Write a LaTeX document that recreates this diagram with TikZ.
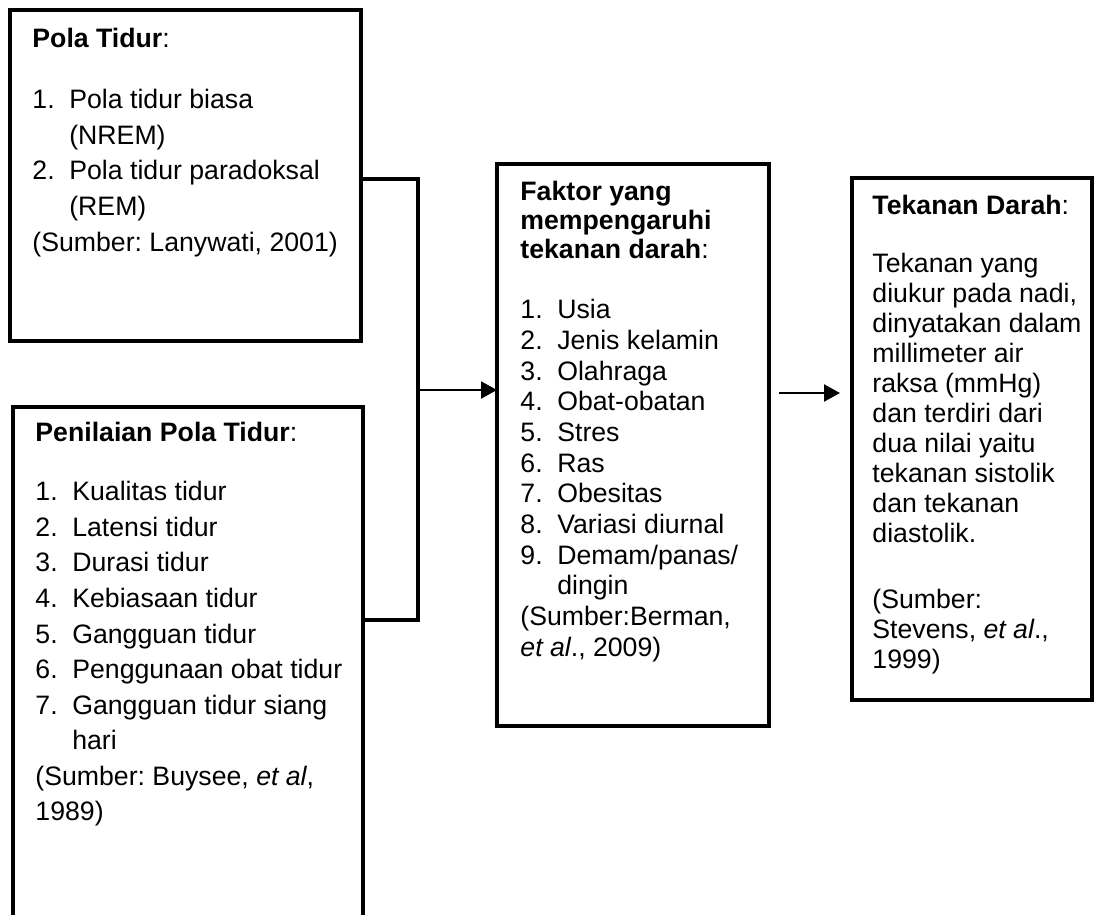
\documentclass[tikz,border=0pt]{standalone}
\usepackage{fontspec}
\setmainfont{Liberation Sans}
\usetikzlibrary{arrows.meta,calc}

% numbered line with hanging indent (\brk keeps the paragraph open)
\newcommand{\brk}{\hfil\break}
\newcommand{\itm}[2]{\par\hangindent=16.6pt\hangafter=1\noindent\makebox[16.6pt][l]{#1}#2\par}
% text block of a box: width, line spacing, content
\newcommand{\isibox}[3]{\parbox[t]{#1}{\raggedright\frenchspacing\fontsize{12pt}{#2}\selectfont #3}}

\begin{document}
\begin{tikzpicture}[x=0.45pt,y=-0.45pt,
    kotak/.style={draw,line width=1.5pt,anchor=north west,inner sep=0pt,outer sep=0pt},
    isi/.style={anchor=north west,inner sep=0pt},
    garis/.style={line width=1.4pt},
    panah/.style={line width=1.1pt,-{Triangle[length=7.2pt,width=7.6pt]}}]

    \useasboundingbox (0,0) rectangle (1094,915);
    \clip (0,0) rectangle (1094,915);

    %%%%%%%%%%%%%%%%%%% Pola Tidur %%%%%%%%%%%%%%%%%%%%%%%%%%%%%%%
    \node [kotak,minimum width=157.95pt,minimum height=148.95pt] (pola) at (10,10) {};
    \node [isi] (polatxt) at ($(pola.north west)+(22,18)$) {\isibox{150pt}{16pt}{%
        \textbf{Pola Tidur}:\par\vspace{11.5pt}
        \itm{1.}{Pola tidur biasa\brk(NREM)}
        \itm{2.}{Pola tidur paradoksal\brk(REM)}
        (Sumber: Lanywati, 2001)}};

    %%%%%%%%%%%%%%%%%%% Penilaian Pola Tidur %%%%%%%%%%%%%%%%%%%%%
    \node [kotak,minimum width=157.5pt,minimum height=244.35pt] (nilai) at (13,407) {};
    \node [isi] (nilaitxt) at ($(nilai.north west)+(22,15)$) {\isibox{150pt}{16pt}{%
        \textbf{Penilaian Pola Tidur}:\par\vspace{10.6pt}
        \itm{1.}{Kualitas tidur}
        \itm{2.}{Latensi tidur}
        \itm{3.}{Durasi tidur}
        \itm{4.}{Kebiasaan tidur}
        \itm{5.}{Gangguan tidur}
        \itm{6.}{Penggunaan obat tidur}
        \itm{7.}{Gangguan tidur siang\brk hari}
        (Sumber: Buysee, \textit{et al},\\1989)}};

    %%%%%%%%%%%%%%%%%%% Faktor %%%%%%%%%%%%%%%%%%%%%%%%%%%%%%%%%%%
    \node [kotak,minimum width=122.4pt,minimum height=252.9pt] (faktor) at (497,164) {};
    \node [isi] (faktortxt) at ($(faktor.north west)+(23,17)$) {\isibox{115pt}{13.05pt}{%
        \textbf{Faktor yang\\mempengaruhi\\tekanan darah}:\par
        \fontsize{12pt}{13.8pt}\selectfont\vspace{13.2pt}
        \itm{1.}{Usia}
        \itm{2.}{Jenis kelamin}
        \itm{3.}{Olahraga}
        \itm{4.}{Obat-obatan}
        \itm{5.}{Stres}
        \itm{6.}{Ras}
        \itm{7.}{Obesitas}
        \itm{8.}{Variasi diurnal}
        \itm{9.}{Demam/panas/\brk dingin}
        (Sumber:Berman,\\\textit{et al}., 2009)}};

    %%%%%%%%%%%%%%%%%%% Tekanan Darah %%%%%%%%%%%%%%%%%%%%%%%%%%%%
    \node [kotak,minimum width=108pt,minimum height=234.9pt] (tekanan) at (852,178) {};
    \node [isi] (tekanantxt) at ($(tekanan.north west)+(20,17)$) {\isibox{110pt}{13.5pt}{%
        \textbf{Tekanan Darah}:\par\vspace{12.6pt}
        Tekanan yang\\diukur pada nadi,\\dinyatakan dalam\\millimeter air\\raksa (mmHg)\\%
        dan terdiri dari\\dua nilai yaitu\\tekanan sistolik\\dan tekanan\\diastolik.\par\vspace{16.2pt}
        (Sumber:\\Stevens, \textit{et al}.,\\1999)}};

    % Circuit
    \coordinate (simpul) at (418,390);
    \draw [garis] ($(pola.north east)+(0,169)$) -| (simpul) |- ($(nilai.north east)+(0,213)$);
    \draw [panah] (simpul) -- (simpul -| faktor.west);
    \coordinate (panahA) at (779,393);
    \coordinate (panahB) at (840,393);
    \draw [panah] (panahA) -- (panahB);

\end{tikzpicture}
\end{document}
